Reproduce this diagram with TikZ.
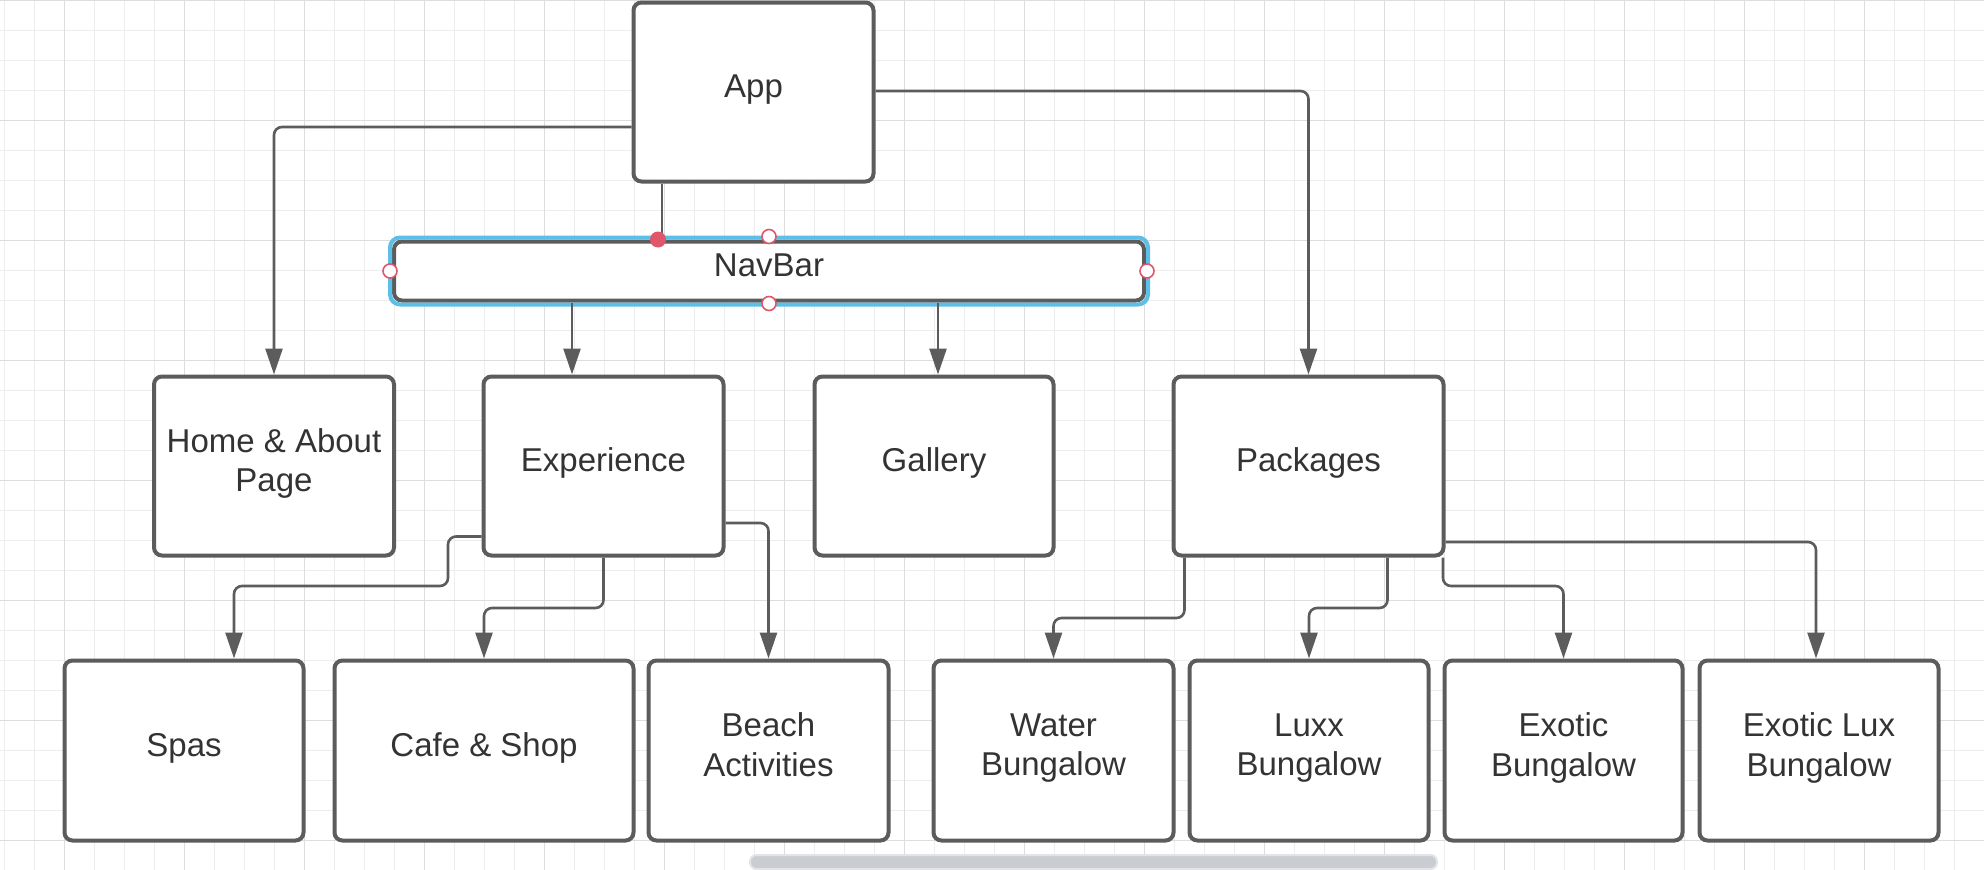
\documentclass[tikz,border=0pt]{standalone}
\usepackage{fontspec}
\setmainfont{Liberation Sans}
\usetikzlibrary{arrows.meta}
\definecolor{boxc}{HTML}{5C5C5C}
\definecolor{linec}{HTML}{5C5C5C}
\definecolor{txt}{HTML}{333333}
\definecolor{gridminor}{HTML}{EDEDED}
\definecolor{gridmajor}{HTML}{DDDDDD}
\definecolor{selblue}{HTML}{5BBFE8}
\definecolor{handlered}{HTML}{E0566A}
\definecolor{scrollfill}{HTML}{C9CCD1}
\definecolor{scrolledge}{HTML}{E2E4E7}
\newcommand\mydp{\rule[-12pt]{0pt}{12pt}}
\tikzset{
  box/.style={draw=boxc, line width=4pt, rounded corners=8pt, fill=white, text=txt,
    font=\fontsize{33}{39.5}\selectfont, align=center, inner sep=0pt,
    minimum width=240pt, minimum height=179pt},
  conn/.style={draw=linec, line width=2.6pt, rounded corners=8pt},
  arr/.style={conn, -{Triangle[length=26pt,width=17pt]}},
  openhandle/.style={draw=handlered, line width=1.6pt, fill=white},
}
\begin{document}
\begin{tikzpicture}[x=1pt, y=-1pt]
\useasboundingbox (0,0) rectangle (1984,870);
\fill[white] (0,0) rectangle (1984,870);
% grid
\foreach \x in {4.3,34.3,...,1984} {\draw[gridminor, line width=1pt] (\x,0) -- (\x,870);}
\foreach \y in {0.3,30.3,...,870} {\draw[gridminor, line width=1pt] (0,\y) -- (1984,\y);}
\foreach \x in {64.3,184.3,...,1984} {\draw[gridmajor, line width=1pt] (\x,0) -- (\x,870);}
\foreach \y in {0.3,120.3,...,870} {\draw[gridmajor, line width=1pt] (0,\y) -- (1984,\y);}

% nodes
\node[box] (App) at (753.5,92) {App\mydp};
\node[box, minimum width=750pt, minimum height=59pt] (NavBar) at (769,271) {NavBar\mydp};
\node[box] (Home) at (274,466) {Home \& About\\Page\mydp};
\node[box] (Experience) at (603.5,466) {Experience\mydp};
\node[box, minimum width=239pt] (Gallery) at (934,466) {Gallery\mydp};
\node[box, minimum width=270pt] (Packages) at (1308.5,466) {Packages\mydp};
\node[box, minimum width=239pt, minimum height=180pt] (Spas) at (184,750.5) {Spas\mydp};
\node[box, minimum width=299pt, minimum height=180pt] (Cafe) at (484,750.5) {Cafe \& Shop\mydp};
\node[box, minimum height=180pt] (Beach) at (768.5,750.5) {Beach\\Activities\mydp};
\node[box, minimum height=180pt] (Water) at (1053.5,750.5) {Water\\Bungalow\mydp};
\node[box, minimum width=239pt, minimum height=180pt] (Luxx) at (1309,750.5) {Luxx\\Bungalow\mydp};
\node[box, minimum width=238pt, minimum height=180pt] (Exotic) at (1563.5,750.5) {Exotic\\Bungalow\mydp};
\node[box, minimum width=239pt, minimum height=180pt] (ExoticLux) at (1819,750.5) {Exotic Lux\\Bungalow\mydp};

% selection outline of NavBar
\draw[selblue, line width=4pt, rounded corners=10pt]
  ([shift={(-2pt,2pt)}]NavBar.north west) rectangle ([shift={(2pt,-2pt)}]NavBar.south east);

% connectors
\coordinate (a1) at ([yshift=-35pt]App.west);
\draw[arr] (a1) -| (Home.north);
\coordinate (a2) at ([xshift=-91.5pt]App.south);
\draw[conn] (a2) -- (a2 |- NavBar.north);
\draw[arr] ([yshift=1pt]App.east) -| (Packages.north);

\coordinate (n1) at ([xshift=-197pt]NavBar.south);
\draw[arr] (n1) -- (n1 |- Experience.north);
\coordinate (n2) at ([xshift=169pt]NavBar.south);
\draw[arr] (n2) -- (n2 |- Gallery.north);

\coordinate (e1) at ([yshift=-70.5pt]Experience.west);
\draw[arr] (e1) -| (448,586) -| ([xshift=50pt]Spas.north);
\draw[arr] (Experience.south) -- (Experience.south |- 0,608) -| (Cafe.north);
\draw[arr] ([yshift=-57pt]Experience.east) -| (Beach.north);

\coordinate (p1) at ([xshift=-124pt]Packages.south);
\draw[arr] (p1) -- (p1 |- 0,618) -| (Water.north);
\coordinate (p2) at ([xshift=79pt]Packages.south);
\draw[arr] (p2) -- (p2 |- 0,608) -| (Luxx.north);
\coordinate (p3) at ([xshift=134.5pt]Packages.south);
\draw[arr] (p3) -- (p3 |- 0,586) -| (Exotic.north);
\draw[arr] ([yshift=-76pt]Packages.east) -| ([xshift=-3pt]ExoticLux.north);

% selection handles
\fill[handlered] ([xshift=-4pt]a2 |- NavBar.north) circle (8pt);
\draw[openhandle] ([yshift=3pt]NavBar.north) circle (7pt);
\draw[openhandle] ([yshift=-1pt]NavBar.south) circle (7pt);
\draw[openhandle] ([xshift=-2pt]NavBar.west) circle (7pt);
\draw[openhandle] ([xshift=1pt]NavBar.east) circle (7pt);

% scroll bar
\draw[scrolledge, fill=scrollfill, line width=2pt, rounded corners=6.5pt] (750,855) rectangle (1437,869);
\end{tikzpicture}
\end{document}
